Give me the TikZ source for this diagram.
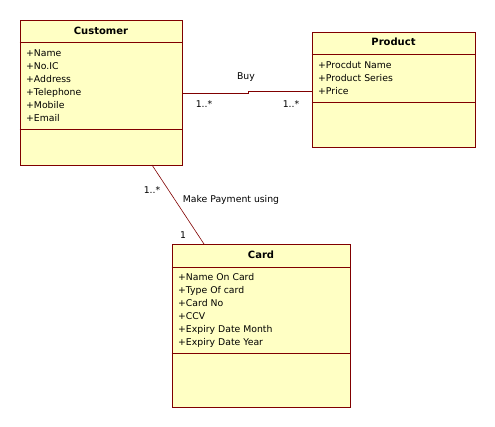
\documentclass[tikz,border=0pt]{standalone}
\usepackage{fontspec}
\setmainfont{DejaVu Sans}
\definecolor{clsfill}{RGB}{255,255,196}
\definecolor{clsline}{RGB}{128,0,0}
\begin{document}
\begin{tikzpicture}[x=1pt,y=-1pt,
  classbox/.style={draw=clsline,fill=clsfill,line width=0.8pt,inner sep=0pt,minimum width=#1},
  title/.style={font=\fontsize{10}{12}\selectfont\bfseries,inner sep=0pt},
  attr/.style={font=\fontsize{9.3}{13}\selectfont,anchor=north west,inner sep=0pt,align=left},
  lbl/.style={font=\fontsize{9.3}{11}\selectfont,inner sep=0pt},
  sep/.style={draw=clsline,line width=0.8pt},
  assoc/.style={draw=clsline,line width=0.6pt}]
\useasboundingbox (0,0) rectangle (495,427);
% Customer
\node[classbox=162pt,minimum height=145pt] (cust) at (101,92.5) {};
\node[title] (custt) at (101,31) {Customer};
\draw[sep] (cust.west |- 0,42) -- (cust.east |- 0,42);
\draw[sep] (cust.west |- 0,129) -- (cust.east |- 0,129);
\node[attr] (custa) at (26,49.5) {+Name\\+No.IC\\+Address\\+Telephone\\+Mobile\\+Email};
% Product
\node[classbox=163pt,minimum height=115pt] (prod) at (393.5,89.5) {};
\node[title] (prodt) at (393.5,42) {Product};
\draw[sep] (prod.west |- 0,54) -- (prod.east |- 0,54);
\draw[sep] (prod.west |- 0,102) -- (prod.east |- 0,102);
\node[attr] (proda) at (318,61.5) {+Procdut Name\\+Product Series\\+Price};
% Card
\node[classbox=178pt,minimum height=163pt] (card) at (261,325.5) {};
\node[title] (cardt) at (261,255) {Card};
\draw[sep] (card.west |- 0,267) -- (card.east |- 0,267);
\draw[sep] (card.west |- 0,353) -- (card.east |- 0,353);
\node[attr] (carda) at (178,273.5) {+Name On Card\\+Type Of card\\+Card No\\+CCV\\+Expiry Date Month\\+Expiry Date Year};
% Buy association
\coordinate (b1) at (248,93);
\coordinate (b2) at (248,91);
\draw[assoc] (cust.east |- b1) -- (b1) -- (b2) -- (prod.west |- b2);
\node[lbl] (buy) at (246,77) {Buy};
\node[lbl] (m1) at (204,104) {1..*};
\node[lbl] (m2) at (291,104) {1..*};
% Payment association
\coordinate (p1) at (152,165);
\coordinate (p2) at (204,244);
\draw[assoc] (p1) -- (p2);
\node[lbl] (m3) at (152,190) {1..*};
\node[lbl] (pay) at (231,200) {Make Payment using};
\node[lbl] (m4) at (183,235) {1};
\end{tikzpicture}
\end{document}
